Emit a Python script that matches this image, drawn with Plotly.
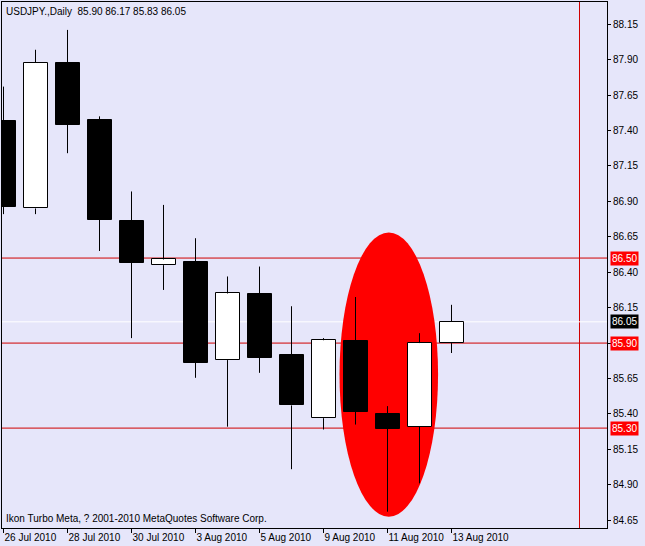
import plotly.graph_objects as go

# ---- data ----
dates = ["26 Jul 2010", "27 Jul 2010", "28 Jul 2010", "29 Jul 2010", "30 Jul 2010",
         "2 Aug 2010", "3 Aug 2010", "4 Aug 2010", "5 Aug 2010", "6 Aug 2010",
         "9 Aug 2010", "10 Aug 2010", "11 Aug 2010", "12 Aug 2010", "13 Aug 2010"]
opens  = [87.47, 86.85, 87.88, 87.475, 86.76, 86.45, 86.47, 85.78, 86.245, 85.815, 85.37, 85.915, 85.40, 85.31, 85.90]
highs  = [87.71, 87.97, 88.11, 87.50, 86.97, 86.875, 86.64, 86.37, 86.44, 86.16, 85.935, 86.225, 85.455, 85.97, 86.17]
lows   = [86.81, 86.81, 87.24, 86.55, 85.935, 86.275, 85.655, 85.31, 85.69, 85.01, 85.29, 85.325, 84.71, 84.91, 85.83]
closes = [86.86, 87.88, 87.44, 86.77, 86.465, 86.49, 85.76, 86.25, 85.795, 85.46, 85.92, 85.415, 85.295, 85.90, 86.05]

ytick_vals = [84.65, 84.90, 85.15, 85.40, 85.65, 85.90, 86.15, 86.40, 86.65, 86.90, 87.15, 87.40, 87.65, 87.90, 88.15]
xtick_idx = [0, 2, 4, 6, 8, 10, 12, 14]
level_lines = [86.50, 85.90, 85.30]
current_price = 86.05
vline_index = 18
ellipse_x = (10.5, 13.58)
ellipse_y = (84.675, 86.68)
y_range = (84.595, 88.307)
x_range = (-0.047, 18.859)

title_text = "USDJPY.,Daily  85.90 86.17 85.83 86.05"
copyright_text = "Ikon Turbo Meta, ? 2001-2010 MetaQuotes Software Corp."

BG = "#E6E6FA"
LINE_RED = "#D00000"
FONT = "Liberation Sans"

idx = list(range(len(dates)))

# wick segments (outside the body)
wx, wy = [], []
for i in idx:
    top = max(opens[i], closes[i])
    bot = min(opens[i], closes[i])
    wx += [i, i, None, i, i, None]
    wy += [highs[i], top, None, bot, lows[i], None]

fig = go.Figure()
fig.add_trace(go.Scatter(x=wx, y=wy, mode="lines", line=dict(color="black", width=1),
                         hoverinfo="skip", showlegend=False))
fig.add_trace(go.Bar(
    x=idx,
    base=[min(o, c) for o, c in zip(opens, closes)],
    y=[abs(c - o) for o, c in zip(opens, closes)],
    width=0.75,
    marker=dict(color=["white" if c > o else "black" for o, c in zip(opens, closes)],
                line=dict(color="black", width=1)),
    showlegend=False,
))

shapes = [
    dict(type="circle", xref="x", yref="y", x0=ellipse_x[0], x1=ellipse_x[1],
         y0=ellipse_y[0], y1=ellipse_y[1], fillcolor="#FF0000", line=dict(width=0), layer="below"),
]
for lv in level_lines:
    shapes.append(dict(type="line", xref="paper", yref="y", x0=0, x1=1, y0=lv, y1=lv,
                       line=dict(color=LINE_RED, width=1), layer="below"))
shapes.append(dict(type="line", xref="x", yref="paper", x0=vline_index, x1=vline_index, y0=0, y1=1,
                   line=dict(color=LINE_RED, width=1), layer="below"))
shapes.append(dict(type="line", xref="paper", yref="y", x0=0, x1=1, y0=current_price, y1=current_price,
                   line=dict(color="white", width=1), layer="below"))

annotations = [
    dict(text=title_text, xref="paper", yref="paper", x=0, y=1, xanchor="left", yanchor="top",
         xshift=2, yshift=-2, showarrow=False, font=dict(family=FONT, size=10, color="black")),
    dict(text=copyright_text, xref="paper", yref="paper", x=0, y=0, xanchor="left", yanchor="bottom",
         xshift=2, yshift=2, showarrow=False, font=dict(family=FONT, size=10, color="black")),
]
for lv in level_lines:
    annotations.append(dict(text=f"{lv:.2f}", xref="paper", yref="y", x=1, y=lv, xanchor="left",
                            yanchor="middle", xshift=3, showarrow=False, bgcolor="#FF0000",
                            borderpad=1, font=dict(family=FONT, size=10, color="white")))
annotations.append(dict(text=f"{current_price:.2f}", xref="paper", yref="y", x=1, y=current_price,
                        xanchor="left", yanchor="middle", xshift=3, showarrow=False, bgcolor="black",
                        borderpad=1, font=dict(family=FONT, size=10, color="white")))

fig.update_layout(
    width=645, height=546,
    margin=dict(l=2, r=38, t=2, b=18, autoexpand=False),
    paper_bgcolor=BG, plot_bgcolor=BG,
    shapes=shapes, annotations=annotations,
    bargap=0, showlegend=False,
    font=dict(family=FONT, size=10, color="black"),
    xaxis=dict(range=list(x_range), tickvals=xtick_idx, ticktext=[dates[i] for i in xtick_idx],
               ticks="outside", ticklen=4, tickcolor="black", showgrid=False, zeroline=False,
               showline=True, linecolor="black", linewidth=1, mirror=True, tickangle=0,
               automargin=False, ticklabelposition="outside right", ticklabelstandoff=0,
               tickfont=dict(family=FONT, size=10)),
    yaxis=dict(range=list(y_range), side="right", tickvals=ytick_vals,
               ticktext=[f"{v:.2f}" for v in ytick_vals], automargin=False,
               ticks="outside", ticklen=3, tickcolor="black", showgrid=False, zeroline=False,
               showline=True, linecolor="black", linewidth=1, mirror=True,
               tickfont=dict(family=FONT, size=10)),
)

fig.write_html("out.html", config={"displayModeBar": False},
               post_script="document.body.style.margin='0';document.body.style.overflow='hidden';")
